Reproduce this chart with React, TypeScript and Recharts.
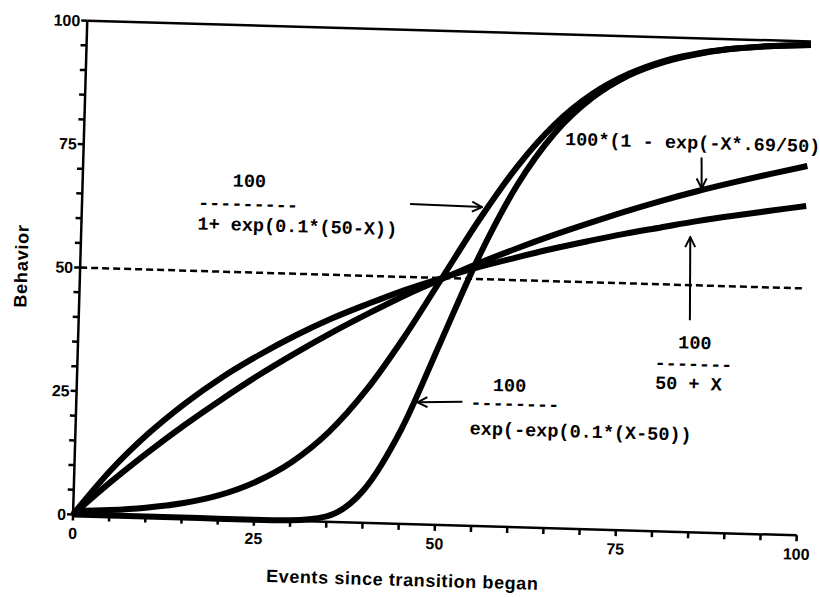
import React from 'react';
import { LineChart, Line, XAxis, YAxis, ReferenceLine } from 'recharts';

const xs = [0, 5, 10, 15, 20, 25, 30, 35, 40, 45, 50, 55, 60, 65, 70, 75, 80, 85, 90, 95, 100];
const logistic = [0.7, 1.1, 1.8, 2.9, 4.7, 7.6, 11.9, 18.2, 26.9, 37.8, 50, 62.2, 73.1, 81.8, 88.1, 92.4, 95.3, 97.1, 98.2, 98.9, 99.3];
const gompertz = [0, 0, 0, 0, 0, 0, 0.1, 1.1, 6.6, 19.2, 36.8, 54.5, 69.2, 80.0, 87.3, 92.1, 95.1, 97.0, 98.2, 98.9, 99.3];
const exponential = [0, 6.7, 12.9, 18.7, 24.1, 29.2, 33.9, 38.3, 42.4, 46.3, 49.8, 53.2, 56.3, 59.2, 61.9, 64.5, 66.9, 69.1, 71.1, 73.0, 74.8];
const hyperbolic = [0, 9.1, 16.7, 23.1, 28.6, 33.3, 37.5, 41.2, 44.4, 47.4, 50, 52.4, 54.5, 56.5, 58.3, 60, 61.5, 63.0, 64.3, 65.5, 66.7];
const ticks = [0, 5, 10, 15, 20, 25, 30, 35, 40, 45, 50, 55, 60, 65, 70, 75, 80, 85, 90, 95, 100];
const labelledTicks = [0, 25, 50, 75, 100];

const data = xs.map((x, i) => ({
  x,
  logistic: logistic[i],
  gompertz: gompertz[i],
  exponential: exponential[i],
  hyperbolic: hyperbolic[i],
}));

const fmt = (v: number) => (labelledTicks.includes(v) ? String(v) : '');
const tickFont = { fontFamily: 'Liberation Sans, Arial, sans-serif', fontSize: 16, fontWeight: 700, fill: '#000' };
const mono = { fontFamily: 'Liberation Mono, Courier New, monospace', fontSize: 18.5, fontWeight: 700, fill: '#000' } as const;

export default function App() {
  return (
    <div style={{ position: 'absolute', left: 0, top: 0, width: 820, height: 597, background: '#fff', overflow: 'hidden' }}>
      <div style={{ position: 'absolute', left: 0, top: 0, width: 820, height: 597, transform: 'rotate(1.65deg)', transformOrigin: '442px 278px' }}>
        <LineChart width={820} height={597} data={data} margin={{ top: 31, right: 16, bottom: 0, left: 0 }}>
          <XAxis
            dataKey="x"
            type="number"
            domain={[0, 100]}
            ticks={ticks}
            tickFormatter={fmt}
            interval={0}
            height={72}
            stroke="#000"
            strokeWidth={2.5}
            tickSize={6}
            tickMargin={7}
            tick={tickFont}
            label={{ value: 'Events since transition began', position: 'insideBottom', offset: 10, dx: -31, style: { fontFamily: 'Liberation Sans, Arial, sans-serif', fontSize: 18, fontWeight: 700, letterSpacing: 0.6, fill: '#000' } }}
          />
          <YAxis
            type="number"
            domain={[0, 100]}
            ticks={ticks}
            tickFormatter={fmt}
            interval={0}
            width={80}
            stroke="#000"
            strokeWidth={2.5}
            tickSize={6}
            tickMargin={1}
            tick={tickFont}
            label={{ value: 'Behavior', angle: -90, position: 'insideLeft', offset: 21, style: { textAnchor: 'middle', fontFamily: 'Liberation Sans, Arial, sans-serif', fontSize: 18, fontWeight: 700, letterSpacing: 0.8, fill: '#000' } }}
          />
          <YAxis
            yAxisId="right"
            orientation="right"
            type="number"
            domain={[0, 100]}
            ticks={ticks}
            interval={0}
            width={0}
            stroke="#000"
            strokeWidth={2.5}
            tickSize={6}
            tick={false}
          />
          <ReferenceLine y={100} stroke="#000" strokeWidth={2.5} />
          <ReferenceLine y={50} stroke="#000" strokeWidth={2.5} strokeDasharray="7 4" />
          <Line dataKey="logistic" type="monotone" stroke="#000" strokeWidth={6} dot={false} isAnimationActive={false} />
          <Line dataKey="gompertz" type="monotone" stroke="#000" strokeWidth={6} dot={false} isAnimationActive={false} />
          <Line dataKey="exponential" type="monotone" stroke="#000" strokeWidth={6} dot={false} isAnimationActive={false} />
          <Line dataKey="hyperbolic" type="monotone" stroke="#000" strokeWidth={6} dot={false} isAnimationActive={false} />
        </LineChart>
        <svg width={820} height={597} style={{ position: 'absolute', left: 0, top: 0, pointerEvents: 'none' }}>
          <defs>
            <marker id="ah" viewBox="0 0 12 12" refX="11" refY="6" markerWidth="12" markerHeight="12" markerUnits="userSpaceOnUse" orient="auto">
              <path d="M1,1 L11,6 L1,11" fill="none" stroke="#000" strokeWidth={2} />
            </marker>
          </defs>
          <text x={230} y={186} dy="0.35em" style={mono}>100</text>
          <text x={196} y={209} dy="0.35em" style={mono}>---------</text>
          <text x={196} y={230} dy="0.35em" style={mono}>1+ exp(0.1*(50-X))</text>
          <line x1={408} y1={205} x2={480} y2={206} stroke="#000" strokeWidth={2} markerEnd="url(#ah)" />

          <text x={561} y={135} dy="0.35em" style={mono}>100*(1 - exp(-X*.69/50)</text>
          <line x1={698} y1={150} x2={699} y2={181} stroke="#000" strokeWidth={2} markerEnd="url(#ah)" />

          <text x={680} y={335} dy="0.35em" style={mono}>100</text>
          <text x={657} y={356} dy="0.35em" style={mono}>-------</text>
          <text x={658} y={376} dy="0.35em" style={mono}>50 + X</text>
          <line x1={691} y1={313} x2={689} y2={230} stroke="#000" strokeWidth={2} markerEnd="url(#ah)" />

          <text x={496} y={383} dy="0.35em" style={mono}>100</text>
          <text x={474} y={401} dy="0.35em" style={mono}>--------</text>
          <text x={474} y={427} dy="0.35em" style={mono}>exp(-exp(0.1*(X-50))</text>
          <line x1={466} y1={401} x2={421} y2={403} stroke="#000" strokeWidth={2} markerEnd="url(#ah)" />
        </svg>
      </div>
    </div>
  );
}
